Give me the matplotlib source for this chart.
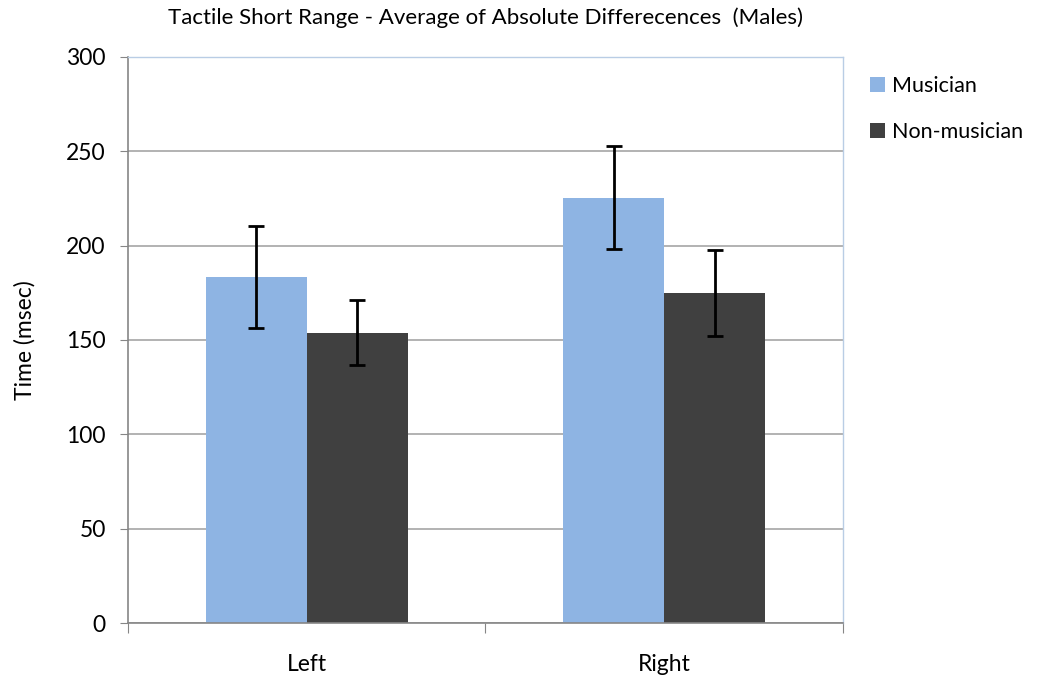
import matplotlib
matplotlib.use("Agg")
import matplotlib.pyplot as plt
import numpy as np

categories = ["Left", "Right"]
series_names = ["Musician", "Non-musician"]
musician = [183.5, 225.3]
musician_err = [27, 27.3]
nonmusician = [153.8, 175.0]
nonmusician_err = [17.3, 22.8]
yticks = [0, 50, 100, 150, 200, 250, 300]

plt.rcParams['font.family'] = ['Lato', 'DejaVu Sans']

fig = plt.figure(figsize=(10.38, 6.76), dpi=100)
ax = fig.add_axes([0.1233, 0.0784, 0.6888, 0.8373])

x = np.arange(len(categories))
w = 0.283
ax.bar(x - w/2, musician, w, color='#8eb4e3', zorder=2, label=series_names[0],
       yerr=musician_err, error_kw=dict(ecolor='black', elinewidth=2, capsize=6, capthick=2, zorder=3))
ax.bar(x + w/2, nonmusician, w, color='#404040', zorder=2, label=series_names[1],
       yerr=nonmusician_err, error_kw=dict(ecolor='black', elinewidth=2, capsize=6, capthick=2, zorder=3))

ax.set_xlim(-0.5, 1.5)
ax.set_ylim(0, 300)
ax.set_yticks(yticks)
ax.set_yticklabels([str(v) for v in yticks], fontsize=16.5)
ax.yaxis.grid(True, color='#a6a6a6', linewidth=1.2, zorder=0)
ax.set_axisbelow(True)

ax.set_xticks([-0.5, 0.5, 1.5])
ax.set_xticklabels([])
ax.set_xticks(x, minor=True)
ax.set_xticklabels(categories, minor=True, fontsize=16.5)
ax.tick_params(axis='x', which='major', length=7, color='#868686', direction='out')
ax.tick_params(axis='x', which='minor', length=0, pad=22)
ax.tick_params(axis='y', length=6, color='#868686', direction='out', pad=10)

for s in ['left', 'bottom']:
    ax.spines[s].set_color('#868686')
    ax.spines[s].set_linewidth(1.2)
for s in ['top', 'right']:
    ax.spines[s].set_color('#b9cde5')
    ax.spines[s].set_linewidth(1.0)

ax.set_ylabel("Time (msec)", fontsize=16.5, labelpad=22)
ax.set_title("Tactile Short Range - Average of Absolute Differecences  (Males)", fontsize=16, pad=24)

ax.legend(loc='upper left', bbox_to_anchor=(1.0, 1.014), frameon=False, fontsize=15.5,
          handlelength=0.7, handleheight=0.7, handletextpad=0.35, labelspacing=1.2,
          borderaxespad=0.85)

fig.savefig("out.png", dpi=100)
